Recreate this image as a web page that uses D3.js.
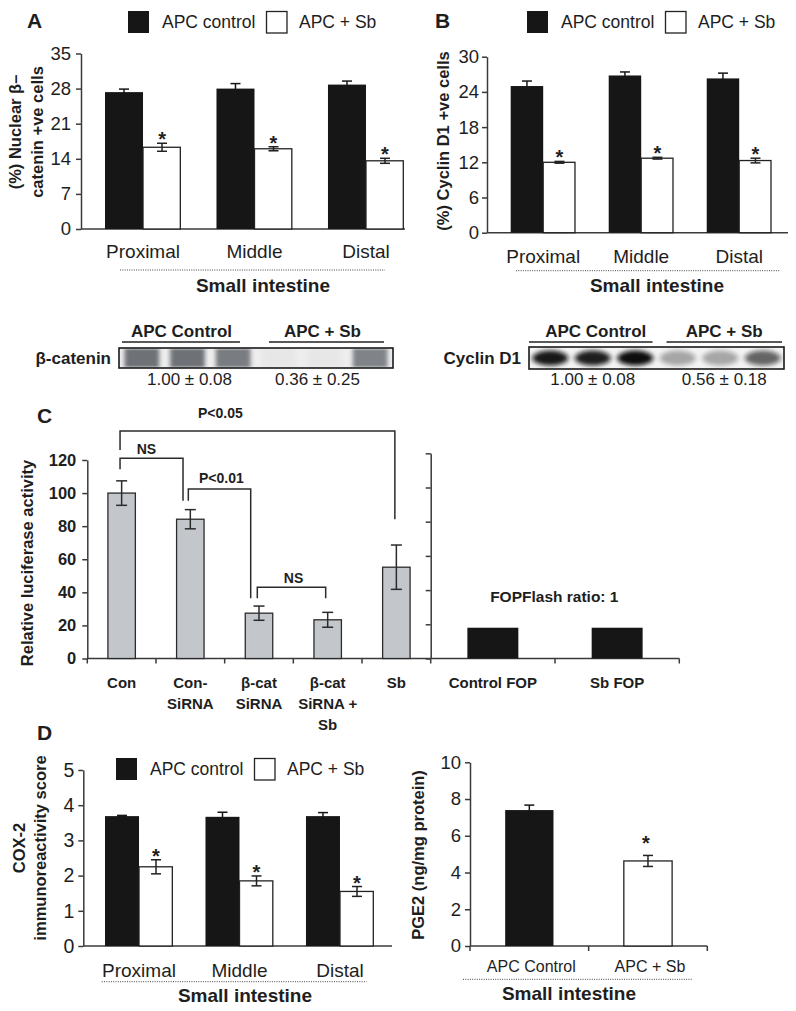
<!DOCTYPE html>
<html><head><meta charset="utf-8">
<script src="https://cdn.jsdelivr.net/npm/d3@7"></script>
<style>
html,body{margin:0;padding:0;background:#fff;}
svg{display:block;}
</style></head><body>
<svg id="fig" width="796" height="1011"></svg>
<script>
// ---------------- data ----------------
const regions = ["Proximal", "Middle", "Distal"];
const groupSeries = ["APC control", "APC + Sb"];
// Panel A: nuclear beta-catenin
const aTicks = [0, 7, 14, 21, 28, 35];
const aControl = [27.3, 28.0, 28.8];
const aControlErr = [0.6, 1.0, 0.7];
const aSb = [16.3, 16.0, 13.6];
const aSbErr = [0.8, 0.4, 0.5];
// Panel B: cyclin D1
const bTicks = [0, 6, 12, 18, 24, 30];
const bControl = [25.0, 26.8, 26.3];
const bControlErr = [0.85, 0.6, 0.9];
const bSb = [12.0, 12.7, 12.3];
const bSbErr = [0.15, 0.15, 0.4];
// Western blots
const blotGroups = ["APC Control", "APC + Sb"];
const catBand = [0.72, 0.72, 0.66, 0.03, 0.03, 0.62];
const catQuant = ["1.00 ± 0.08", "0.36 ± 0.25"];
const cycBand = [0.95, 0.92, 1.0, 0.33, 0.33, 0.62];
const cycQuant = ["1.00 ± 0.08", "0.56 ± 0.18"];
// Panel C: luciferase
const cCats = [["Con"], ["Con-", "SiRNA"], ["β-cat", "SiRNA"], ["β-cat", "SiRNA +", "Sb"], ["Sb"]];
const cValues = [100, 84.2, 27.4, 23.4, 55.2];
const cErr = [7.4, 5.8, 4.3, 4.5, 13.4];
const cTicks = [0, 20, 40, 60, 80, 100, 120];
const fopCats = ["Control FOP", "Sb FOP"];
const fopValues = [18, 18];
const brackets = [
  {from: 0, to: 4, level: 137.5, endFrom: 126.1, endTo: 84.2, label: "P<0.05", labelVal: 145.4, labelFrac: 0.365},
  {from: 0, to: 1, level: 121.0, endFrom: 114.4, endTo: 95.4, label: "NS", labelVal: 123.6, labelFrac: 0.42},
  {from: 1, to: 2, level: 102.5, endFrom: 95.4, endTo: 36.4, label: "P<0.01", labelVal: 106.3, labelFrac: 0.53},
  {from: 2, to: 3, level: 43.0, endFrom: 36.4, endTo: 36.4, label: "NS", labelVal: 45.5, labelFrac: 0.53}
];
// Panel D: COX-2
const dTicks = [0, 1, 2, 3, 4, 5];
const dControl = [3.69, 3.67, 3.69];
const dControlErr = [0.02, 0.13, 0.1];
const dSb = [2.25, 1.85, 1.55];
const dSbErr = [0.2, 0.14, 0.14];
// Panel D: PGE2
const pCats = ["APC Control", "APC + Sb"];
const pValues = [7.4, 4.63];
const pErr = [0.27, 0.3];
const pTicks = [0, 2, 4, 6, 8, 10];

// ---------------- helpers ----------------
const F = "'Liberation Sans', Arial, Helvetica, sans-serif";
const INK = "#1e1e1e";
const AX = "#3a3a3a";
const svg = d3.select("#fig");

function txt(g, x, y, s, o = {}) {
  return g.append("text").attr("x", x).attr("y", y).text(s)
    .attr("font-family", F).attr("font-size", o.fs || 16)
    .attr("font-weight", o.bold ? "bold" : "normal")
    .attr("text-anchor", o.anchor || "middle").attr("fill", o.fill || INK);
}
function vtxt(g, x, y, s, o = {}) {
  return g.append("text").attr("transform", `translate(${x},${y}) rotate(-90)`).text(s)
    .attr("font-family", F).attr("font-size", o.fs || 16)
    .attr("font-weight", o.bold ? "bold" : "normal")
    .attr("text-anchor", o.anchor || "middle").attr("fill", o.fill || INK);
}
function yAxis(g, y, x0, ticks, o = {}) {
  const ax = d3.axisLeft(y).tickValues(ticks).tickSize(5).tickSizeOuter(0)
    .tickPadding(o.pad == null ? 4 : o.pad)
    .tickFormat(o.noLabels ? () => "" : d3.format("d"));
  const gg = g.append("g").attr("transform", `translate(${x0},0)`).call(ax);
  gg.select(".domain").attr("stroke", AX).attr("stroke-width", 1.5);
  gg.selectAll(".tick line").attr("stroke", AX).attr("stroke-width", 1.5);
  gg.selectAll(".tick text").attr("fill", INK).attr("font-size", o.fs || 18)
    .attr("font-family", F).attr("font-weight", o.bold ? "bold" : "normal");
  return gg;
}
function errBar(g, cx, yTop, yBot, cap, color) {
  g.append("line").attr("x1", cx).attr("x2", cx).attr("y1", yTop).attr("y2", yBot)
    .attr("stroke", color).attr("stroke-width", 1.5);
  [yTop, yBot].forEach(yy => g.append("line").attr("x1", cx - cap / 2).attr("x2", cx + cap / 2)
    .attr("y1", yy).attr("y2", yy).attr("stroke", color).attr("stroke-width", 1.5));
}
function dotted(g, x1, x2, y) {
  g.append("line").attr("x1", x1).attr("x2", x2).attr("y1", y).attr("y2", y)
    .attr("stroke", "#444").attr("stroke-width", 1).attr("stroke-dasharray", "1,1.3");
}
function legend(g, L, top, base) {
  g.append("rect").attr("x", L).attr("y", top).attr("width", 21).attr("height", 22).attr("fill", "#161616");
  txt(g, L + 34, base, groupSeries[0], {fs: 17.5, anchor: "start"});
  g.append("rect").attr("x", L + 138.5).attr("y", top + 0.5).attr("width", 20.5).attr("height", 21.5)
    .attr("fill", "#fff").attr("stroke", "#222").attr("stroke-width", 1.3);
  txt(g, L + 171, base, groupSeries[1], {fs: 17.5, anchor: "start"});
}

function grouped(cfg, control, controlErr, sb, sbErr, ticks) {
  const g = svg.append("g");
  const y = d3.scaleLinear().domain([0, ticks[ticks.length - 1]]).range([cfg.y0, cfg.yTop]);
  const x = d3.scaleBand().domain(regions).range(cfg.barRange).paddingInner(cfg.padInner).paddingOuter(0);
  const xs = d3.scaleBand().domain(groupSeries).range([0, x.bandwidth()]);
  yAxis(g, y, cfg.axisX, ticks, {fs: cfg.tickFs, pad: cfg.tickPad});
  g.append("line").attr("x1", cfg.axisX).attr("x2", cfg.axisEnd).attr("y1", y(0)).attr("y2", y(0))
    .attr("stroke", AX).attr("stroke-width", 1.5);
  regions.forEach((r, i) => {
    const vals = [[control[i], controlErr[i]], [sb[i], sbErr[i]]];
    vals.forEach(([v, e], k) => {
      const bx = x(r) + xs(groupSeries[k]);
      const bw = xs.bandwidth();
      if (k === 0) {
        g.append("rect").attr("x", bx).attr("y", y(v)).attr("width", bw).attr("height", y(0) - y(v)).attr("fill", "#161616");
        errBar(g, bx + bw / 2, y(v + e), y(v - e), 10, "#161616");
      } else {
        g.append("rect").attr("x", bx).attr("y", y(v)).attr("width", bw - 0.7).attr("height", y(0) - y(v))
          .attr("fill", "#fff").attr("stroke", "#222").attr("stroke-width", 1.3);
        errBar(g, bx + bw / 2, y(v + e), y(v - e), 10, "#222");
        txt(g, bx + bw / 2, y(v + e) + 3, "*", {fs: 20, bold: true});
      }
    });
    txt(g, x(r) + x.bandwidth() / 2, cfg.catY, r, {fs: 19});
  });
  dotted(g, cfg.dot[0], cfg.dot[1], cfg.dot[2]);
  txt(g, cfg.si[0], cfg.si[1], "Small intestine", {fs: 19, bold: true});
  legend(g, cfg.legL, cfg.legTop, cfg.legBase);
  txt(g, cfg.letter[0], cfg.letter[1], cfg.letter[2], {fs: 21, bold: true, anchor: "start"});
  cfg.ylab.forEach(l => vtxt(g, l.x, l.y, l.t, {fs: 16.5, bold: true, anchor: l.anchor || "middle"}));
  return g;
}

// ---------------- Panel A ----------------
grouped({y0: 229, yTop: 53.5, barRange: [105, 404], padInner: 0.318, axisX: 81, axisEnd: 405,
  tickFs: 18.5, tickPad: 5, catY: 258, dot: [120, 385, 270], si: [263, 292],
  legL: 128, legTop: 11, legBase: 27.5, letter: [27, 28, "A"],
  ylab: [{x: 21, y: 132, t: "(%) Nuclear β–"}, {x: 43, y: 132, t: "catenin +ve cells"}]},
  aControl, aControlErr, aSb, aSbErr, aTicks);

// ---------------- Panel B ----------------
grouped({y0: 232.7, yTop: 56.7, barRange: [510.7, 771.7], padInner: 0.337, axisX: 487, axisEnd: 788,
  tickFs: 18.5, tickPad: 3, catY: 263, dot: [516, 780, 270.7], si: [657, 292],
  legL: 527, legTop: 11, legBase: 27.5, letter: [435, 28, "B"],
  ylab: [{x: 449, y: 141, t: "(%) Cyclin D1 +ve cells"}]},
  bControl, bControlErr, bSb, bSbErr, bTicks);

// ---------------- Blots ----------------
const defs = svg.append("defs");
defs.append("filter").attr("id", "blurA").attr("x", "-20%").attr("y", "-50%").attr("width", "140%").attr("height", "200%")
  .append("feGaussianBlur").attr("stdDeviation", "2.2 1.2");
defs.append("filter").attr("id", "blurB").attr("x", "-30%").attr("y", "-60%").attr("width", "160%").attr("height", "220%")
  .append("feGaussianBlur").attr("stdDeviation", "2.6 2");

function blot(cfg, bands, quant) {
  const g = svg.append("g");
  const lanes = d3.scaleBand().domain(d3.range(bands.length)).range([cfg.x0, cfg.x1]);
  const grp = d3.scaleBand().domain(blotGroups).range([cfg.x0, cfg.x1]);
  blotGroups.forEach((b, i) => {
    const cx = grp(b) + grp.bandwidth() / 2 + cfg.hdrShift[i];
    txt(g, cx, cfg.hdrY, b, {fs: 17, bold: true});
    g.append("line").attr("x1", grp(b) + cfg.ulInset[i][0]).attr("x2", grp(b) + grp.bandwidth() - cfg.ulInset[i][1])
      .attr("y1", cfg.hdrY + 5).attr("y2", cfg.hdrY + 5).attr("stroke", "#222").attr("stroke-width", 1.4);
    txt(g, cx + cfg.numShift[i], cfg.numY, quant[i], {fs: 17});
  });
  const cid = "clip" + cfg.id;
  defs.append("clipPath").attr("id", cid).append("rect")
    .attr("x", cfg.x0).attr("y", cfg.y0).attr("width", cfg.x1 - cfg.x0).attr("height", cfg.y1 - cfg.y0);
  g.append("rect").attr("x", cfg.x0).attr("y", cfg.y0).attr("width", cfg.x1 - cfg.x0).attr("height", cfg.y1 - cfg.y0)
    .attr("fill", cfg.bg);
  const bg = g.append("g").attr("clip-path", `url(#${cid})`);
  bands.forEach((v, i) => {
    const cx = lanes(i) + lanes.bandwidth() / 2;
    if (cfg.kind === "rect") {
      bg.append("rect").attr("x", cx - lanes.bandwidth() * 0.38).attr("y", cfg.y0 + 1)
        .attr("width", lanes.bandwidth() * 0.76).attr("height", cfg.y1 - cfg.y0 - 2)
        .attr("fill", "#3d434a").attr("opacity", v).attr("filter", "url(#blurA)");
    } else {
      bg.append("ellipse").attr("cx", cx).attr("cy", (cfg.y0 + cfg.y1) / 2)
        .attr("rx", lanes.bandwidth() * 0.42).attr("ry", 7.5)
        .attr("fill", "#0c0c0c").attr("opacity", v).attr("filter", "url(#blurB)");
    }
  });
  g.append("rect").attr("x", cfg.x0).attr("y", cfg.y0).attr("width", cfg.x1 - cfg.x0).attr("height", cfg.y1 - cfg.y0)
    .attr("fill", "none").attr("stroke", "#1a1a1a").attr("stroke-width", 1.6);
  txt(g, cfg.x0 - 8, (cfg.y0 + cfg.y1) / 2 + 6, cfg.label, {fs: 17, bold: true, anchor: "end"});
}
blot({id: "cat", x0: 119, x1: 393, y0: 348, y1: 368, hdrY: 337, numY: 385, kind: "rect", bg: "#eeeeee",
  label: "β-catenin", hdrShift: [-6, -2], numShift: [8, -5], ulInset: [[3, 16], [13, 9]]}, catBand, catQuant);
blot({id: "cyc", x0: 529, x1: 784, y0: 347, y1: 369, hdrY: 337, numY: 385, kind: "ellipse", bg: "#f3f3f3",
  label: "Cyclin D1", hdrShift: [3, 4], numShift: [-3, 0], ulInset: [[0, 4], [10, 2]]}, cycBand, cycQuant);

// ---------------- Panel C ----------------
(function () {
  const g = svg.append("g");
  const y = d3.scaleLinear().domain([0, 120]).range([658.5, 460]);
  const yR = d3.scaleLinear().domain([0, 120]).range([658.5, 453.3]);
  const x = d3.scaleBand().domain(d3.range(cCats.length)).range([87.3, 430.7]);
  const fx = d3.scaleBand().domain(fopCats).range([430.7, 679.3]);
  yAxis(g, y, 87.3, cTicks, {fs: 16.5, bold: true, pad: 6});
  yAxis(g, yR, 430.7, cTicks, {noLabels: true});
  g.append("line").attr("x1", x.range()[0]).attr("x2", fx.range()[1]).attr("y1", y(0)).attr("y2", y(0))
    .attr("stroke", AX).attr("stroke-width", 1.5);
  const bounds = x.domain().map(d => x(d)).concat(fx.domain().map(d => fx(d)), [fx.range()[1]]);
  bounds.forEach(b => g.append("line").attr("x1", b).attr("x2", b).attr("y1", y(0)).attr("y2", y(0) + 5)
    .attr("stroke", AX).attr("stroke-width", 1.5));
  const bw = x.bandwidth() * 0.4;
  cValues.forEach((v, i) => {
    const cx = x(i) + x.bandwidth() / 2;
    g.append("rect").attr("x", cx - bw / 2).attr("y", y(v)).attr("width", bw).attr("height", y(0) - y(v))
      .attr("fill", "#c3c7cc").attr("stroke", "#2b2b2b").attr("stroke-width", 1.3);
    errBar(g, cx, y(v + cErr[i]), y(v - cErr[i]), 11, "#2b2b2b");
    cCats[i].forEach((line, k) => txt(g, cx, 688 + k * 20.8, line, {fs: 15, bold: true}));
  });
  const fbw = fx.bandwidth() * 0.41;
  fopValues.forEach((v, i) => {
    const cx = fx(fopCats[i]) + fx.bandwidth() / 2;
    g.append("rect").attr("x", cx - fbw / 2).attr("y", yR(v)).attr("width", fbw).attr("height", yR(0) - yR(v))
      .attr("fill", "#161616");
    txt(g, cx, 688, fopCats[i], {fs: 15, bold: true});
  });
  txt(g, fx.range()[0] + (fx.range()[1] - fx.range()[0]) / 2 - 0.7, 601.7, "FOPFlash ratio: 1", {fs: 15.5, bold: true});
  const ends = [[-1.6, -1.5], [-1.6, -7.3], [-2, -8.3], [-1.7, -2]];
  brackets.forEach((b, j) => {
    const x1 = x(b.from) + x.bandwidth() / 2 + ends[j][0];
    const x2 = x(b.to) + x.bandwidth() / 2 + ends[j][1];
    g.append("path").attr("d", `M${x1},${y(b.endFrom)}V${y(b.level)}H${x2}V${y(b.endTo)}`)
      .attr("fill", "none").attr("stroke", "#2b2b2b").attr("stroke-width", 1.5);
    txt(g, x1 + (x2 - x1) * b.labelFrac, y(b.labelVal), b.label, {fs: 14, bold: true});
  });
  txt(g, 37, 423, "C", {fs: 21, bold: true, anchor: "start"});
  vtxt(g, 33, 563, "Relative luciferase activity", {fs: 16.5, bold: true});
})();

// ---------------- Panel D (COX-2) ----------------
grouped({y0: 946, yTop: 770, barRange: [105, 374], padInner: 0.323, axisX: 83.3, axisEnd: 392,
  tickFs: 19.5, tickPad: 4, catY: 976.7, dot: [101.7, 366.7, 981.7], si: [245, 1001.7],
  legL: 116, legTop: 758, legBase: 775, letter: [37, 740, "D"],
  ylab: [{x: 25, y: 848, t: "COX-2"}, {x: 46, y: 848, t: "immunoreactivity score"}]},
  dControl, dControlErr, dSb, dSbErr, dTicks);

// ---------------- Panel D (PGE2) ----------------
(function () {
  const g = svg.append("g");
  const y = d3.scaleLinear().domain([0, 10]).range([946, 762.3]);
  const x = d3.scaleBand().domain(pCats).range([470, 707.3]);
  yAxis(g, y, 470, pTicks, {fs: 18.5, pad: 4});
  g.append("line").attr("x1", x.range()[0]).attr("x2", x.range()[1]).attr("y1", y(0)).attr("y2", y(0))
    .attr("stroke", AX).attr("stroke-width", 1.5);
  pCats.map(c => x(c)).concat([x.range()[1]]).forEach(b => g.append("line").attr("x1", b).attr("x2", b)
    .attr("y1", y(0)).attr("y2", y(0) + 5).attr("stroke", AX).attr("stroke-width", 1.5));
  const bw = x.bandwidth() * 0.407;
  pValues.forEach((v, i) => {
    const cx = x(pCats[i]) + x.bandwidth() / 2;
    if (i === 0) {
      g.append("rect").attr("x", cx - bw / 2).attr("y", y(v)).attr("width", bw).attr("height", y(0) - y(v)).attr("fill", "#161616");
      errBar(g, cx, y(v + pErr[i]), y(v - pErr[i]), 10, "#161616");
    } else {
      g.append("rect").attr("x", cx - bw / 2).attr("y", y(v)).attr("width", bw).attr("height", y(0) - y(v))
        .attr("fill", "#fff").attr("stroke", "#222").attr("stroke-width", 1.3);
      errBar(g, cx, y(v + pErr[i]), y(v - pErr[i]), 10, "#222");
      txt(g, cx - 2, y(v + pErr[i]) - 5, "*", {fs: 20, bold: true});
    }
    txt(g, cx + 2, 971.7, pCats[i], {fs: 16});
  });
  dotted(g, 463, 693, 979.3);
  txt(g, 569, 1000, "Small intestine", {fs: 19, bold: true});
  vtxt(g, 424, 855, "PGE2 (ng/mg protein)", {fs: 16.5, bold: true});
})();
</script>
</body></html>
